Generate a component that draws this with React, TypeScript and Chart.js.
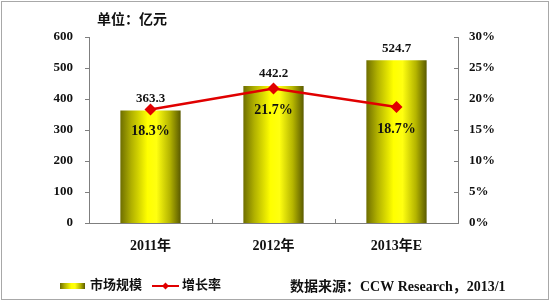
import React, { useEffect, useRef } from "react";
import { Chart, registerables } from "chart.js";

Chart.register(...registerables);

const categories = ["2011年", "2012年", "2013年E"];
const marketSize = [363.3, 442.2, 524.7];
const growthRate = [18.3, 21.7, 18.7];
const leftTicks = [0, 100, 200, 300, 400, 500, 600];
const rightTicks = [0, 5, 10, 15, 20, 25, 30];

const SERIF = "'Liberation Serif', 'Noto Sans CJK SC', serif";
const BAR_PCT = 0.49;

function barGradient(ctx: CanvasRenderingContext2D, x0: number, x1: number) {
  const g = ctx.createLinearGradient(x0, 0, x1, 0);
  g.addColorStop(0, "#6e6e00");
  g.addColorStop(0.18, "#b0b000");
  g.addColorStop(0.45, "#ffff00");
  g.addColorStop(0.6, "#ffff10");
  g.addColorStop(0.82, "#b5b500");
  g.addColorStop(1, "#5a5a00");
  return g;
}

export default function App() {
  const ref = useRef<HTMLCanvasElement>(null);
  useEffect(() => {
    if (!ref.current) return;
    const decor = {
      id: "decor",
      afterDatasetsDraw(chart: any) {
        const ctx = chart.ctx;
        ctx.save();
        ctx.fillStyle = "#111";
        ctx.font = `bold 13px ${SERIF}`;
        ctx.textAlign = "center";
        ctx.textBaseline = "middle";
        const barMeta = chart.getDatasetMeta(1);
        barMeta.data.forEach((el: any, i: number) => {
          ctx.fillText(String(marketSize[i]), el.x, el.y - 12);
        });
        ctx.font = `bold 14px ${SERIF}`;
        const lineMeta = chart.getDatasetMeta(0);
        lineMeta.data.forEach((el: any, i: number) => {
          ctx.fillText(growthRate[i].toFixed(1) + "%", el.x, el.y + 22);
        });
        ctx.restore();
      },
      afterDraw(chart: any) {
        const ctx = chart.ctx;
        const a = chart.chartArea;
        ctx.save();
        ctx.strokeStyle = "#7f7f7f";
        ctx.lineWidth = 1;
        const y = chart.scales.y;
        leftTicks.forEach((v) => {
          const py = Math.round(y.getPixelForValue(v)) + 0.5;
          ctx.beginPath();
          ctx.moveTo(a.left - 4, py);
          ctx.lineTo(a.left, py);
          ctx.stroke();
        });
        const y1 = chart.scales.y1;
        rightTicks.forEach((v) => {
          const py = Math.round(y1.getPixelForValue(v)) + 0.5;
          ctx.beginPath();
          ctx.moveTo(a.right - 4, py);
          ctx.lineTo(a.right, py);
          ctx.stroke();
        });
        const cw = (a.right - a.left) / categories.length;
        for (let i = 1; i < categories.length; i++) {
          const px = Math.round(a.left + cw * i) + 0.5;
          ctx.beginPath();
          ctx.moveTo(px, a.bottom - 4);
          ctx.lineTo(px, a.bottom);
          ctx.stroke();
        }
        ctx.fillStyle = "#111";
        ctx.textBaseline = "middle";
        ctx.textAlign = "left";
        ctx.font = `bold 14px ${SERIF}`;
        ctx.fillText("单位：亿元", 97, 20);
        const ly = 286;
        ctx.fillStyle = barGradient(ctx, 60, 85);
        ctx.fillRect(60, ly - 3, 25, 6);
        ctx.fillStyle = "#111";
        ctx.font = `bold 13px ${SERIF}`;
        ctx.fillText("市场规模", 90, ly);
        ctx.strokeStyle = "#e00000";
        ctx.lineWidth = 2;
        ctx.beginPath();
        ctx.moveTo(152, ly);
        ctx.lineTo(179, ly);
        ctx.stroke();
        ctx.fillStyle = "#e00000";
        ctx.beginPath();
        ctx.moveTo(165.5, ly - 3.5);
        ctx.lineTo(169, ly);
        ctx.lineTo(165.5, ly + 3.5);
        ctx.lineTo(162, ly);
        ctx.closePath();
        ctx.fill();
        ctx.fillStyle = "#111";
        ctx.fillText("增长率", 182, ly);
        ctx.font = `bold 14px ${SERIF}`;
        ctx.fillText("数据来源：CCW Research，2013/1", 290, ly + 1);
        ctx.strokeStyle = "#a8a8a8";
        ctx.lineWidth = 1;
        ctx.strokeRect(1.5, 1.5, 547, 298);
        ctx.restore();
      },
    };
    const chart = new Chart(ref.current, {
      data: {
        labels: categories,
        datasets: [
          {
            type: "line",
            label: "增长率",
            data: growthRate,
            yAxisID: "y1",
            borderColor: "#e00000",
            backgroundColor: "#e00000",
            borderWidth: 2.5,
            pointStyle: "rectRot",
            pointRadius: 6,
            pointBorderWidth: 0,
            order: 0,
          } as any,
          {
            type: "bar",
            label: "市场规模",
            data: marketSize,
            yAxisID: "y",
            barPercentage: BAR_PCT,
            categoryPercentage: 1,
            backgroundColor: (c: any) => {
              const chart = c.chart;
              const a = chart.chartArea;
              if (!a || !chart.scales.x) return "#e0e000";
              const cw = (a.right - a.left) / categories.length;
              const cx = chart.scales.x.getPixelForValue(c.dataIndex);
              const w = cw * BAR_PCT;
              return barGradient(chart.ctx, cx - w / 2, cx + w / 2);
            },
            borderWidth: 0,
            order: 1,
          } as any,
        ],
      },
      options: {
        animation: false,
        responsive: false,
        layout: { padding: { top: 37, left: 0, right: 0, bottom: 0 } },
        plugins: { legend: { display: false }, tooltip: { enabled: false } },
        scales: {
          x: {
            grid: { display: false, drawTicks: false },
            border: { display: true, color: "#7f7f7f", width: 1 },
            ticks: {
              color: "#111",
              font: { family: SERIF, size: 14, weight: "bold" },
              padding: 15,
            },
            afterFit: (s: any) => {
              s.height = 79;
            },
          },
          y: {
            position: "left",
            min: 0,
            max: 600,
            grid: { display: false, drawTicks: false },
            border: { display: true, color: "#7f7f7f", width: 1 },
            ticks: {
              stepSize: 100,
              color: "#111",
              font: { family: SERIF, size: 13, weight: "bold" },
              padding: 16,
            },
            afterFit: (s: any) => {
              s.width = 89;
            },
          },
          y1: {
            position: "right",
            min: 0,
            max: 30,
            grid: { display: false, drawTicks: false },
            border: { display: true, color: "#7f7f7f", width: 1 },
            ticks: {
              stepSize: 5,
              color: "#111",
              font: { family: SERIF, size: 13, weight: "bold" },
              padding: 11,
              callback: (v: any) => v + "%",
            },
            afterFit: (s: any) => {
              s.width = 93;
            },
          },
        },
      },
      plugins: [decor],
    } as any);
    return () => chart.destroy();
  }, []);
  return (
    <div style={{ position: "absolute", left: 0, top: 0, width: 551, height: 302, background: "#fff" }}>
      <canvas ref={ref} width={551} height={302} style={{ display: "block" }} />
    </div>
  );
}
